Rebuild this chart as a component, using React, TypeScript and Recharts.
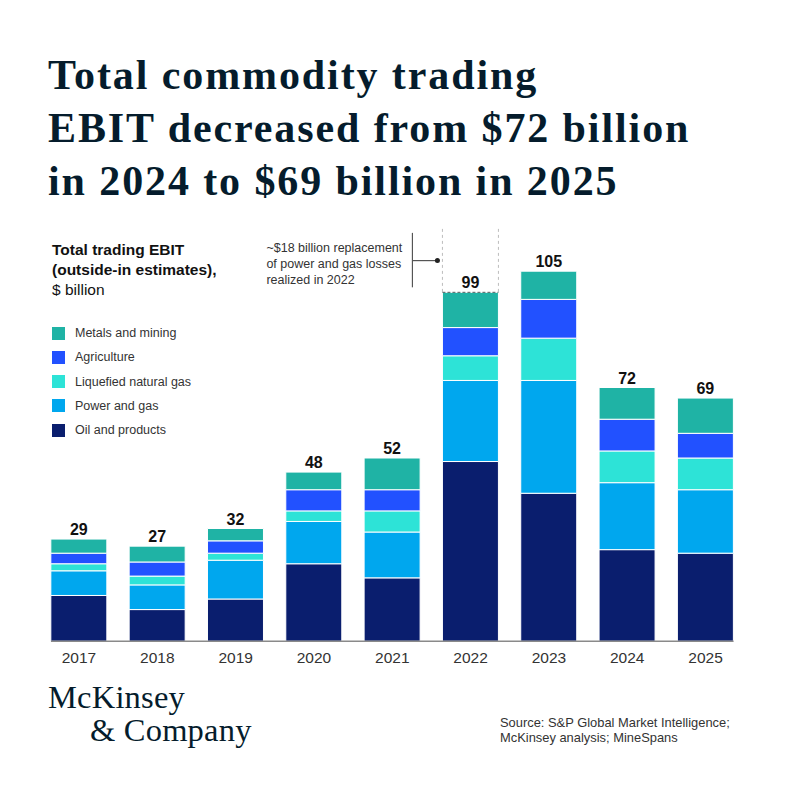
import React from 'react';
import {
  BarChart,
  Bar,
  XAxis,
  YAxis,
  LabelList,
  Legend,
  ReferenceLine
} from 'recharts';

// EBIT by commodity, $ billion
const years = ['2017', '2018', '2019', '2020', '2021', '2022', '2023', '2024', '2025'];
const oilAndProducts = [13, 9, 12, 22, 18, 51, 42, 26, 25];
const powerAndGas = [7, 7, 11, 12, 13, 23, 32, 19, 18];
const liquefiedNaturalGas = [2, 2.5, 2, 3, 6, 7, 12, 9, 9];
const agriculture = [3, 4, 3.5, 6, 6, 8, 11, 9, 7];
const metalsAndMining = [4, 4.5, 3.5, 5, 9, 10, 8, 9, 10];
const totals = [29, 27, 32, 48, 52, 99, 105, 72, 69];
// ~$18 billion replacement of power and gas losses realized in 2022
const powerGasReplacement = [0, 0, 0, 0, 0, 18, 0, 0, 0];

const series = [
  { key: 'oil', name: 'Oil and products', color: '#0A1E6E', values: oilAndProducts },
  { key: 'power', name: 'Power and gas', color: '#00A7EE', values: powerAndGas },
  { key: 'lng', name: 'Liquefied natural gas', color: '#2DE3D7', values: liquefiedNaturalGas },
  { key: 'ag', name: 'Agriculture', color: '#2251FF', values: agriculture },
  { key: 'metals', name: 'Metals and mining', color: '#1FB3A5', values: metalsAndMining },
];

const data = years.map((year, i) => {
  const row: any = { year, total: totals[i], replacement: powerGasReplacement[i] };
  series.forEach(s => { row[s.key] = s.values[i]; });
  return row;
});

const BAR_SIZE = 56;
const SANS = '"Liberation Sans", Arial, sans-serif';
const SERIF = '"Liberation Serif", "Times New Roman", serif';
const INK = '#051C2C';

const ReplacementShape = (props: any) => {
  const { x, y, width, height } = props;
  if (!height || height <= 0) return <g />;
  const mid = y + height / 2;
  const bx = x - 30;
  const tx = x - 176;
  return (
    <g>
      <line x1={x} y1={y} x2={x} y2={y + height} stroke="#BDBDBD" strokeDasharray="3 3" />
      <line x1={x + width} y1={y} x2={x + width} y2={y + height} stroke="#BDBDBD" strokeDasharray="3 3" />
      <line x1={x} y1={y + height} x2={x + width} y2={y + height} stroke="#4A5A5A" strokeDasharray="3 2" />
      <line x1={bx} y1={y + 4} x2={bx} y2={y + height - 5} stroke="#555" strokeWidth={1.2} />
      <line x1={bx} y1={mid} x2={x - 5} y2={mid} stroke="#555" strokeWidth={1.2} />
      <circle cx={x - 5} cy={mid} r={2.5} fill="#222" />
      <text fontFamily={SANS} fontSize={12.5} fill="#333">
        <tspan x={tx} y={mid - 9}>~$18 billion replacement</tspan>
        <tspan x={tx} y={mid + 7}>of power and gas losses</tspan>
        <tspan x={tx} y={mid + 23}>realized in 2022</tspan>
      </text>
    </g>
  );
};

const BaseLine = (props: any) => {
  const { x1, x2, y1 } = props;
  const band = (x2 - x1) / years.length;
  const inset = (band - BAR_SIZE) / 2;
  return <line x1={x1 + inset} x2={x2 - inset} y1={y1} y2={y1} stroke="#8A8A8A" strokeWidth={1.5} />;
};

// legend lists the stack top-down
const LegendList = () => (
  <div style={{ fontFamily: SANS, fontSize: 12.5, color: '#333', textAlign: 'left' }}>
    {series.slice().reverse().map(s => (
      <div key={s.key} style={{ display: 'flex', alignItems: 'center', height: 24.2 }}>
        <span style={{ width: 13, height: 13, background: s.color, marginRight: 10, display: 'inline-block' }} />
        <span>{s.name}</span>
      </div>
    ))}
  </div>
);

export default function App() {
  return (
    <div style={{ position: 'fixed', left: 0, top: 0, width: 800, height: 800, background: '#fff', overflow: 'hidden' }}>
      <div style={{ position: 'absolute', left: 48, top: 48.6, fontFamily: SERIF, fontWeight: 700, fontSize: 42, lineHeight: '53px', letterSpacing: 1.9, color: INK, whiteSpace: 'nowrap' }}>
        <div>Total commodity trading</div>
        <div>EBIT decreased from $72 billion</div>
        <div>in 2024 to $69 billion in 2025</div>
      </div>

      <div style={{ position: 'absolute', left: 52, top: 239.6, fontFamily: SANS, fontSize: 15.5, lineHeight: '20px', color: '#111', whiteSpace: 'nowrap' }}>
        <div style={{ fontWeight: 700 }}>Total trading EBIT</div>
        <div style={{ fontWeight: 700 }}>(outside-in estimates),</div>
        <div>$ billion</div>
      </div>

      <BarChart
        width={800}
        height={800}
        data={data}
        margin={{ top: 218.3, right: 55.3, bottom: 128.7, left: 39.84 }}
        style={{ position: 'absolute', left: 0, top: 0 }}
      >
        <XAxis
          dataKey="year"
          axisLine={false}
          tickLine={false}
          height={30}
          tickMargin={5}
          tick={{ fontFamily: SANS, fontSize: 15.5, fill: '#333' }}
        />
        <YAxis hide domain={[0, 120]} />
        <ReferenceLine y={0} shape={<BaseLine />} />
        {series.map(s => (
          <Bar
            key={s.key}
            dataKey={s.key}
            name={s.name}
            stackId="ebit"
            fill={s.color}
            stroke="#ffffff"
            strokeWidth={1}
            barSize={BAR_SIZE}
            isAnimationActive={false}
          >
            {s.key === 'metals' && (
              <LabelList
                dataKey="total"
                position="top"
                offset={4}
                fill="#111"
                fontSize={16}
                fontWeight={700}
                fontFamily={SANS}
              />
            )}
          </Bar>
        ))}
        <Bar
          dataKey="replacement"
          stackId="ebit"
          legendType="none"
          fill="none"
          barSize={BAR_SIZE}
          shape={<ReplacementShape />}
          isAnimationActive={false}
        />
        <Legend
          layout="vertical"
          verticalAlign="middle"
          align="center"
          content={<LegendList />}
          wrapperStyle={{ position: 'absolute', left: 52, top: 321.2, width: 220, height: 121 }}
        />
      </BarChart>

      <div style={{ position: 'absolute', left: 48, top: 680.8, fontFamily: SERIF, fontSize: 32.5, lineHeight: '33.4px', letterSpacing: 0.2, color: INK, whiteSpace: 'nowrap' }}>
        <div>McKinsey</div>
        <div style={{ paddingLeft: 42 }}>&amp; Company</div>
      </div>

      <div style={{ position: 'absolute', left: 500, top: 715.8, fontFamily: SANS, fontSize: 12.9, lineHeight: '14.7px', color: '#333', whiteSpace: 'nowrap' }}>
        <div>Source: S&amp;P Global Market Intelligence;</div>
        <div>McKinsey analysis; MineSpans</div>
      </div>
    </div>
  );
}
